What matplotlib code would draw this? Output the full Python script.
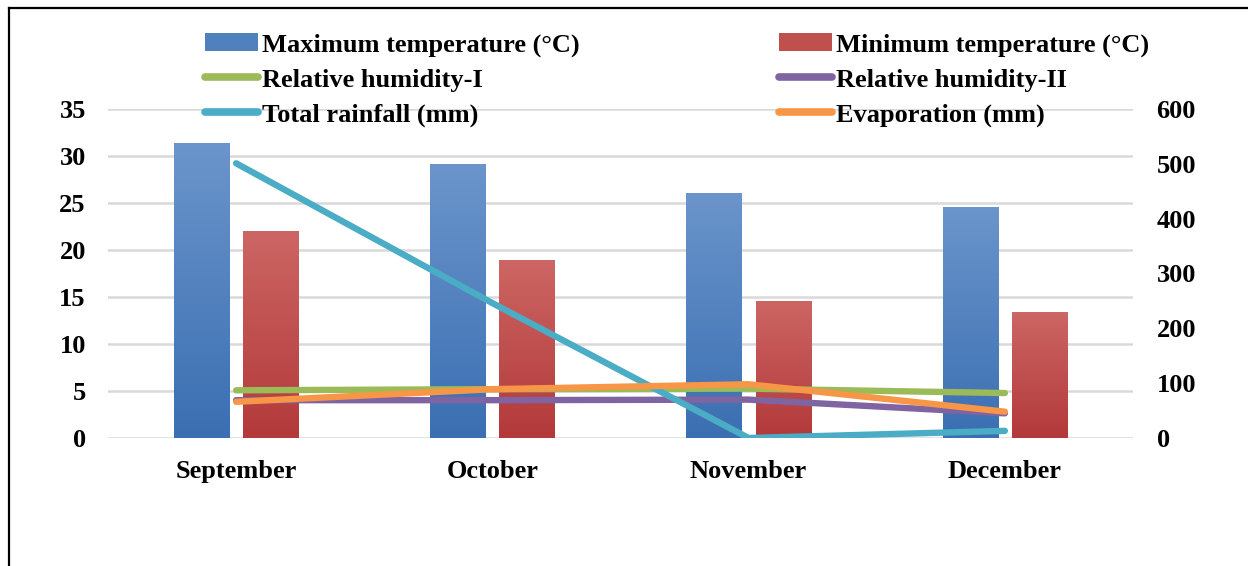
import matplotlib
matplotlib.use("Agg")
import matplotlib.pyplot as plt
import numpy as np
from matplotlib.lines import Line2D
from matplotlib.colors import LinearSegmentedColormap

months = ["September", "October", "November", "December"]
max_temp = [31.4, 29.1, 26.1, 24.6]
min_temp = [22.0, 18.9, 14.6, 13.4]
rh1 = [87, 89, 90, 82]
rh2 = [69, 69, 70, 45]
rainfall = [501, 246, 0, 13]
evaporation = [66, 89, 98, 48]

plt.rcParams['font.family'] = ['Liberation Serif', 'DejaVu Serif']
plt.rcParams['font.weight'] = 'bold'

fig = plt.figure(figsize=(12.48, 5.66), dpi=100)
ax = fig.add_axes([108/1248, 1-438/566, (1133-108)/1248, (438-109)/566])
ax2 = ax.twinx()

x = np.arange(len(months))
w = 0.215
off = 0.135
b1 = ax.bar(x - off, max_temp, w, color='#4F81BD', zorder=2, label='Maximum temperature (°C)')
b2 = ax.bar(x + off, min_temp, w, color='#C0504D', zorder=2, label='Minimum temperature (°C)')

ax.set_xlim(-0.5, 3.5)
ax.set_ylim(0, 35)

# gradient fills on bars (lighter at top, darker at bottom)
grad = np.linspace(0, 1, 256).reshape(-1, 1)
cm_blue = LinearSegmentedColormap.from_list('b', ['#3B6FB2', '#6B95CB'])
cm_red = LinearSegmentedColormap.from_list('r', ['#B3393A', '#CC6664'])
for bars, cm in ((b1, cm_blue), (b2, cm_red)):
    for p in bars:
        x0, y0 = p.get_x(), p.get_y()
        ww, hh = p.get_width(), p.get_height()
        im = ax.imshow(grad, cmap=cm, aspect='auto',
                       extent=(x0, x0 + ww, y0, y0 + hh), origin='lower', zorder=2.1)
        im.set_clip_path(p)

lw = 4.6
l1, = ax2.plot(x, rh1, color='#9BBB59', lw=lw, solid_capstyle='round', label='Relative humidity-I')
l2, = ax2.plot(x, rh2, color='#8064A2', lw=lw, solid_capstyle='round', label='Relative humidity-II')
l3, = ax2.plot(x, rainfall, color='#4BACC6', lw=lw, solid_capstyle='round', label='Total rainfall (mm)')
l4, = ax2.plot(x, evaporation, color='#F79646', lw=lw, solid_capstyle='round', label='Evaporation (mm)')

ax.set_xlim(-0.5, 3.5)
ax.set_ylim(0, 35)
ax.set_yticks(range(0, 36, 5))
ax2.set_ylim(0, 600)
ax2.set_yticks(range(0, 601, 100))
ax.set_xticks(x)
ax.set_xticklabels(months)

ax.yaxis.grid(True, color='#D9D9D9', lw=1.8, zorder=0)
ax.set_axisbelow(True)
for a in (ax, ax2):
    for s in a.spines.values():
        s.set_visible(False)
    a.tick_params(length=0, labelsize=19)
ax.tick_params(axis='y', pad=16)
ax2.tick_params(axis='y', pad=17)
ax.tick_params(axis='x', pad=16)
for t in ax.get_xticklabels() + ax.get_yticklabels() + ax2.get_yticklabels():
    t.set_fontweight('bold')

ax.set_zorder(ax2.get_zorder() - 1)
ax2.patch.set_visible(False)
ax.patch.set_visible(True)

handles = [b1, l1, l3, b2, l2, l4]
labels = [h.get_label() for h in handles]
leg = fig.legend(handles, labels, ncol=2, loc='upper left',
                 bbox_to_anchor=(205/1248, 1-33/566), frameon=False,
                 prop={'family': 'Liberation Serif', 'weight': 'bold', 'size': 19},
                 columnspacing=7.57, handlelength=2.0, handletextpad=0.15,
                 labelspacing=0.43, borderaxespad=0, borderpad=0)
for h in leg.legend_handles:
    if isinstance(h, Line2D):
        h.set_linewidth(5.5)

fig.add_artist(Line2D([9/1248, 9/1248], [0, 1-8/566], color='black', lw=1.6, transform=fig.transFigure))
fig.add_artist(Line2D([9/1248, 1], [1-8/566, 1-8/566], color='black', lw=1.6, transform=fig.transFigure))

fig.savefig('out.png', dpi=100)
